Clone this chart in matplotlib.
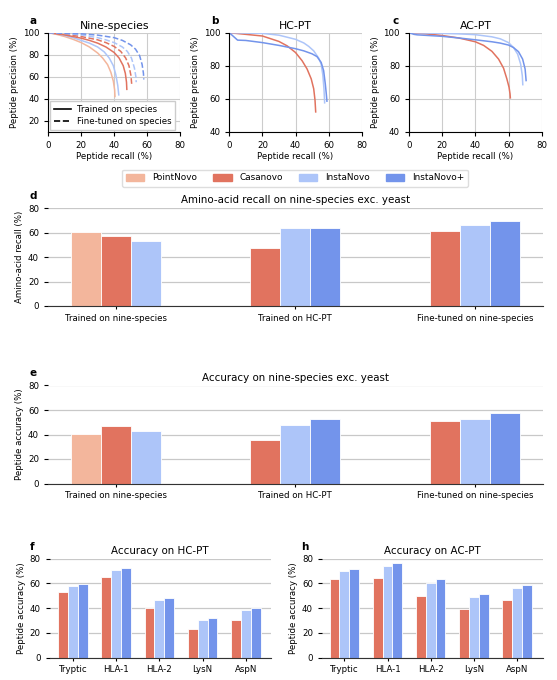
import matplotlib
matplotlib.use("Agg")
import matplotlib.pyplot as plt
from matplotlib.lines import Line2D
from matplotlib.patches import Patch

# colours per model
models = ["PointNovo", "Casanovo", "InstaNovo", "InstaNovo+"]
colors = ["#f3b69c", "#e1735f", "#adc5f9", "#7394eb"]

# ---- a: nine-species precision / recall curves (recall, precision) ----
a_pointnovo = ([0, 5, 10, 15, 20, 25, 30, 33, 36, 38, 39.5, 40.3, 40.5],
               [100, 98.5, 96.5, 94, 91, 87, 81.5, 77, 71, 64, 56, 48, 42])
a_instanovo = ([0, 5, 10, 15, 20, 25, 30, 34, 37, 39.5, 41, 42.2, 42.8],
               [100, 99, 97.5, 95.5, 93, 90.5, 87, 82.5, 77, 70, 62, 52, 43.5])
a_casanovo = ([0, 5, 10, 15, 20, 25, 30, 35, 40, 43, 45.5, 46.8, 47.5, 47.7],
              [100, 99, 98, 96.5, 95, 93, 90.5, 87, 82, 77, 70, 63, 55, 48.5])
a_casanovo_ft = ([0, 10, 20, 30, 35, 40, 44, 47, 49, 50.2, 50.7],
                 [100, 98.5, 96.5, 93.5, 91, 87.5, 83, 77, 70, 61, 52.5])
a_instanovo_ft = ([0, 10, 20, 30, 35, 40, 45, 48, 50.5, 52.3, 53.2, 53.4],
                  [100, 99.3, 98, 95.5, 93.5, 91, 87, 83, 77, 68, 60, 55])
a_instanovoplus_ft = ([0, 10, 20, 30, 40, 45, 50, 53, 55.5, 57, 57.8, 58],
                      [100, 99.5, 99, 97.8, 95.5, 93, 89, 85, 79, 71, 63, 57.5])

# ---- b: HC-PT ----
b_casanovo = ([0, 5, 10, 20, 30, 35, 40, 44, 47, 49.5, 51, 51.8, 52.2],
              [100, 99.5, 99, 98, 94.7, 92, 88, 83, 78, 72, 66, 59, 52])
b_instanovo = ([0, 10, 20, 30, 40, 45, 48, 51, 54, 55.5, 56.5, 57.2, 57.5, 57.6],
               [100, 99.8, 99.6, 98.5, 96, 93.8, 91.7, 89, 84.6, 81, 74.5, 66, 60, 57.5])
b_instanovoplus = ([0, 5, 10, 20, 30, 40, 45, 50, 53, 55.5, 57, 58, 58.6, 59],
                   [100, 95.5, 95.3, 94, 92.3, 90.3, 89, 87.2, 85.5, 82, 77, 69, 63, 58.5])

# ---- c: AC-PT ----
c_casanovo = ([0, 10, 20, 30, 40, 45, 50, 54, 57, 59, 60.3, 60.9, 61.1],
              [100, 99.3, 98.3, 96.8, 94.5, 92.3, 88.7, 84, 78.5, 72, 67, 63, 60.5])
c_instanovo = ([0, 10, 20, 30, 40, 50, 55, 60, 63, 65.5, 67.3, 68.3, 68.6],
               [100, 99.8, 99.6, 99.3, 98.8, 97.5, 96.3, 94, 91, 87, 81, 74, 68.5])
c_instanovoplus = ([0, 3, 5, 10, 20, 30, 40, 50, 55, 60, 63, 66, 68.5, 70, 70.6],
                   [100, 99, 98.7, 98.4, 97.8, 96.8, 95.7, 94.5, 93.7, 92.5, 91, 88.5, 84, 78, 71])

# ---- d / e: grouped bars on nine-species ----
groups = ["Trained on nine-species", "Trained on HC-PT", "Fine-tuned on nine-species"]
d_pointnovo = [60.2, None, None]
d_casanovo = [57.5, 47.5, 61.8]
d_instanovo = [53.4, 63.7, 66.7]
d_instanovoplus = [None, 63.7, 69.2]

e_pointnovo = [40.3, None, None]
e_casanovo = [47.0, 35.2, 50.7]
e_instanovo = [42.7, 47.8, 52.9]
e_instanovoplus = [None, 52.3, 57.7]

# ---- f / h: per enzyme ----
enzymes = ["Tryptic", "HLA-1", "HLA-2", "LysN", "AspN"]
f_casanovo = [53.1, 65.2, 40.4, 23.2, 30.7]
f_instanovo = [57.9, 71.1, 46.3, 30.2, 38.8]
f_instanovoplus = [59.3, 72.7, 47.9, 31.8, 39.9]

h_casanovo = [63.6, 64.6, 49.6, 39.3, 46.6]
h_instanovo = [70.0, 73.8, 60.6, 49.0, 56.3]
h_instanovoplus = [71.7, 76.8, 63.6, 51.2, 59.0]

W, H = 557, 680
plt.rcParams["font.family"] = "DejaVu Sans"
plt.rcParams["font.size"] = 6
plt.rcParams["axes.linewidth"] = 0.8
plt.rcParams["xtick.major.size"] = 3
plt.rcParams["ytick.major.size"] = 3
plt.rcParams["xtick.major.width"] = 0.8
plt.rcParams["ytick.major.width"] = 0.8
plt.rcParams["xtick.labelsize"] = 6.2
plt.rcParams["ytick.labelsize"] = 6.2

fig = plt.figure(figsize=(W / 100, H / 100), dpi=100)


def ax_px(x0, y0, x1, y1):
    return fig.add_axes([x0 / W, 1 - y1 / H, (x1 - x0) / W, (y1 - y0) / H])


def letter(x, y, s):
    fig.text(x / W, 1 - y / H, s, fontsize=7.5, fontweight="bold", ha="center", va="center")


def curve_axes(ax, title, ylim, yticks):
    ax.set_xlim(0, 80)
    ax.set_ylim(*ylim)
    ax.set_xticks([0, 20, 40, 60, 80])
    ax.set_yticks(yticks)
    ax.grid(True, color="#cccccc", lw=0.8)
    ax.set_axisbelow(True)
    for s in ["top", "right"]:
        ax.spines[s].set_visible(False)
    ax.set_title(title, fontsize=7.8, pad=3)
    ax.set_xlabel("Peptide recall (%)", fontsize=6.2, labelpad=1.5)
    ax.set_ylabel("Peptide precision (%)", fontsize=6.2, labelpad=2.5)


lw = 1.1

# a
ax = ax_px(48.3, 32.7, 180, 131.7)
ax.plot(*a_pointnovo, color=colors[0], lw=lw)
ax.plot(*a_instanovo, color=colors[2], lw=lw)
ax.plot(*a_casanovo, color=colors[1], lw=lw)
ax.plot(*a_casanovo_ft, color=colors[1], lw=lw, ls="--")
ax.plot(*a_instanovo_ft, color=colors[2], lw=lw, ls="--")
ax.plot(*a_instanovoplus_ft, color=colors[3], lw=lw, ls="--")
curve_axes(ax, "Nine-species", (10, 100), [20, 40, 60, 80, 100])
style_handles = [Line2D([], [], color="k", lw=1.2, ls="-"),
                 Line2D([], [], color="k", lw=1.2, ls="--")]
ax.legend(style_handles, ["Trained on species", "Fine-tuned on species"],
          loc="lower left", fontsize=6.2, handlelength=1.9, borderpad=0.45,
          labelspacing=0.35, handletextpad=0.7, borderaxespad=0.25,
          fancybox=False, edgecolor="#cccccc", framealpha=1)

# b
ax = ax_px(229.3, 32.7, 361.7, 131.7)
ax.plot(*b_casanovo, color=colors[1], lw=lw)
ax.plot(*b_instanovo, color=colors[2], lw=lw)
ax.plot(*b_instanovoplus, color=colors[3], lw=lw)
curve_axes(ax, "HC-PT", (40, 100), [40, 60, 80, 100])

# c
ax = ax_px(409, 32.7, 541.7, 131.7)
ax.plot(*c_casanovo, color=colors[1], lw=lw)
ax.plot(*c_instanovo, color=colors[2], lw=lw)
ax.plot(*c_instanovoplus, color=colors[3], lw=lw)
curve_axes(ax, "AC-PT", (40, 100), [40, 60, 80, 100])

letter(33, 21, "a")
letter(215, 21, "b")
letter(396, 21, "c")


def bar_axes(ax, title, ylabel):
    ax.set_ylim(0, 80)
    ax.set_yticks([0, 20, 40, 60, 80])
    ax.yaxis.grid(True, color="#c8c8c8", lw=0.9)
    ax.set_axisbelow(True)
    for s in ["top", "right", "left"]:
        ax.spines[s].set_visible(False)
    ax.spines["bottom"].set_color("#333333")
    ax.set_title(title, fontsize=7.4, pad=3.5)
    ax.set_ylabel(ylabel, fontsize=6.2, labelpad=2.5)
    ax.tick_params(axis="x", length=2.5, pad=3)


def grouped(ax, series, width):
    n_groups = len(series[0])
    for g in range(n_groups):
        present = [(i, s[g]) for i, s in enumerate(series) if s[g] is not None]
        n = len(present)
        for k, (i, v) in enumerate(present):
            ax.bar(g + (k - (n - 1) / 2) * width, v, width=width, color=colors[i],
                   edgecolor="white", linewidth=0.6)
    ax.set_xticks(range(n_groups))


# d
ax = ax_px(48, 208.3, 542.7, 306)
grouped(ax, [d_pointnovo, d_casanovo, d_instanovo, d_instanovoplus], 1 / 6)
ax.set_xticklabels(groups)
ax.set_xlim(-0.376, 2.376)
bar_axes(ax, "Amino-acid recall on nine-species exc. yeast", "Amino-acid recall (%)")
letter(33, 196, "d")

# e
ax = ax_px(48, 385.5, 542.7, 483.5)
grouped(ax, [e_pointnovo, e_casanovo, e_instanovo, e_instanovoplus], 1 / 6)
ax.set_xticklabels(groups)
ax.set_xlim(-0.376, 2.376)
bar_axes(ax, "Accuracy on nine-species exc. yeast", "Peptide accuracy (%)")
letter(33, 373, "e")

# f
ax = ax_px(49.5, 558.7, 270.7, 657.7)
grouped(ax, [[None] * 5, f_casanovo, f_instanovo, f_instanovoplus], 0.23)
ax.set_xticklabels(enzymes)
ax.set_xlim(-0.55, 4.58)
bar_axes(ax, "Accuracy on HC-PT", "Peptide accuracy (%)")
letter(32, 547, "f")

# h
ax = ax_px(322, 558.7, 542.7, 657.7)
grouped(ax, [[None] * 5, h_casanovo, h_instanovo, h_instanovoplus], 0.23)
ax.set_xticklabels(enzymes)
ax.set_xlim(-0.52, 4.6)
bar_axes(ax, "Accuracy on AC-PT", "Peptide accuracy (%)")
letter(305, 547, "h")

# shared model legend
handles = [Patch(color=c) for c in colors]
fig.legend(handles, models, loc="center", bbox_to_anchor=(295 / W, 1 - 178 / H),
           ncol=4, fontsize=6.4, handlelength=2.1, handleheight=0.75,
           columnspacing=1.8, handletextpad=0.85, borderpad=0.45,
           edgecolor="#dddddd", framealpha=1)

fig.savefig("out.png", dpi=100)
